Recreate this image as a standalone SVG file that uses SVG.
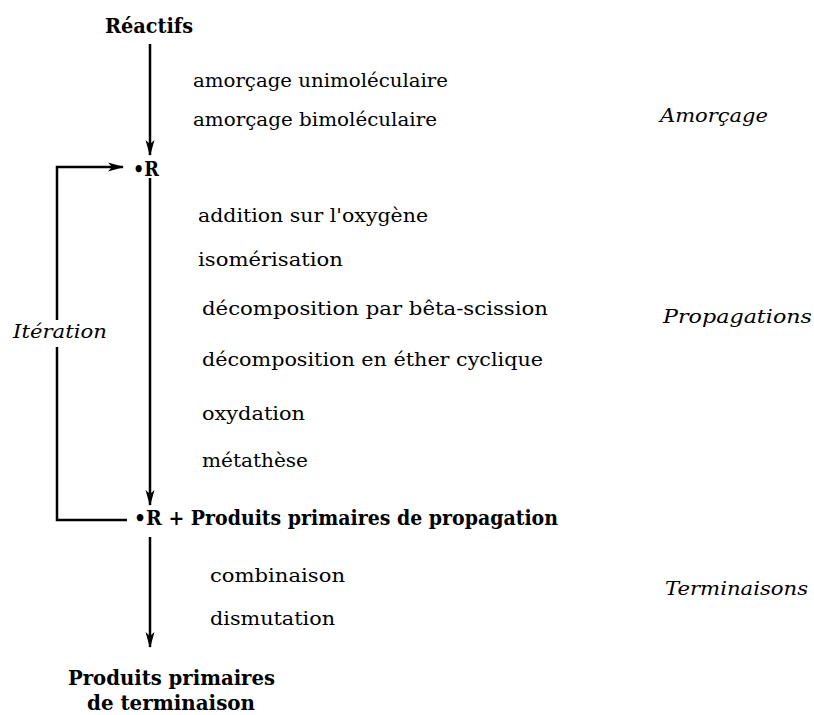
<svg xmlns="http://www.w3.org/2000/svg" width="814" height="715" viewBox="0 0 814 715">
<style>
text { font-family: "DejaVu Serif", "Liberation Serif", serif; fill: #000; }
.n { font-size: 19px; }
.b { font-size: 20px; font-weight: bold; }
.i { font-size: 19px; font-style: italic; }
.ln { fill: none; stroke: #000; stroke-width: 2.5; }
</style>
<defs>
<marker id="ah" markerUnits="userSpaceOnUse" viewBox="0 0 16 10" markerWidth="16" markerHeight="10" refX="15" refY="5" orient="auto">
<path d="M0,0.5 L16,5 L0,9.5 L4,5 Z" fill="#000"/>
</marker>
</defs>
<rect width="814" height="715" fill="#fff"/>
<g id="connectors">
<line class="ln" x1="150" y1="44" x2="150" y2="155" marker-end="url(#ah)"/>
<line class="ln" x1="150" y1="178" x2="150" y2="505" marker-end="url(#ah)"/>
<line class="ln" x1="150" y1="537" x2="150" y2="647" marker-end="url(#ah)"/>
<polyline class="ln" points="127,520 57,520 57,347"/>
<polyline class="ln" points="57,320 57,167 123,167" marker-end="url(#ah)"/>
</g>
<g id="reactifs"><text class="b" x="105" y="33" textLength="88" lengthAdjust="spacingAndGlyphs">Réactifs</text></g>
<g id="radical"><text class="b" x="133" y="176" font-size="21" textLength="26" lengthAdjust="spacingAndGlyphs">•R</text></g>
<g id="radical-produits"><text class="b" x="134" y="525" font-size="21" textLength="424" lengthAdjust="spacingAndGlyphs">•R + Produits primaires de propagation</text></g>
<g id="produits-terminaison">
<text class="b" x="68" y="685" textLength="207" lengthAdjust="spacingAndGlyphs">Produits primaires</text>
<text class="b" x="87" y="710" textLength="168" lengthAdjust="spacingAndGlyphs">de terminaison</text>
</g>
<g id="amorcage-labels">
<text class="n" x="193" y="87" textLength="255" lengthAdjust="spacingAndGlyphs">amorçage unimoléculaire</text>
<text class="n" x="193" y="126" textLength="244" lengthAdjust="spacingAndGlyphs">amorçage bimoléculaire</text>
</g>
<g id="propagation-labels">
<text class="n" x="198" y="222" textLength="230" lengthAdjust="spacingAndGlyphs">addition sur l'oxygène</text>
<text class="n" x="198" y="266" textLength="145" lengthAdjust="spacingAndGlyphs">isomérisation</text>
<text class="n" x="202" y="315" textLength="346" lengthAdjust="spacingAndGlyphs">décomposition par bêta-scission</text>
<text class="n" x="202" y="366" textLength="341" lengthAdjust="spacingAndGlyphs">décomposition en éther cyclique</text>
<text class="n" x="202" y="420" textLength="103" lengthAdjust="spacingAndGlyphs">oxydation</text>
<text class="n" x="202" y="467" textLength="106" lengthAdjust="spacingAndGlyphs">métathèse</text>
</g>
<g id="terminaison-labels">
<text class="n" x="210" y="582" textLength="135" lengthAdjust="spacingAndGlyphs">combinaison</text>
<text class="n" x="210" y="625" textLength="125" lengthAdjust="spacingAndGlyphs">dismutation</text>
</g>
<g id="phases">
<text class="i" x="660" y="122" textLength="108" lengthAdjust="spacingAndGlyphs">Amorçage</text>
<text class="i" x="663" y="323" textLength="149" lengthAdjust="spacingAndGlyphs">Propagations</text>
<text class="i" x="665" y="595" textLength="143" lengthAdjust="spacingAndGlyphs">Terminaisons</text>
</g>
<g id="iteration"><text class="i" x="13" y="338" textLength="94" lengthAdjust="spacingAndGlyphs">Itération</text></g>
</svg>
